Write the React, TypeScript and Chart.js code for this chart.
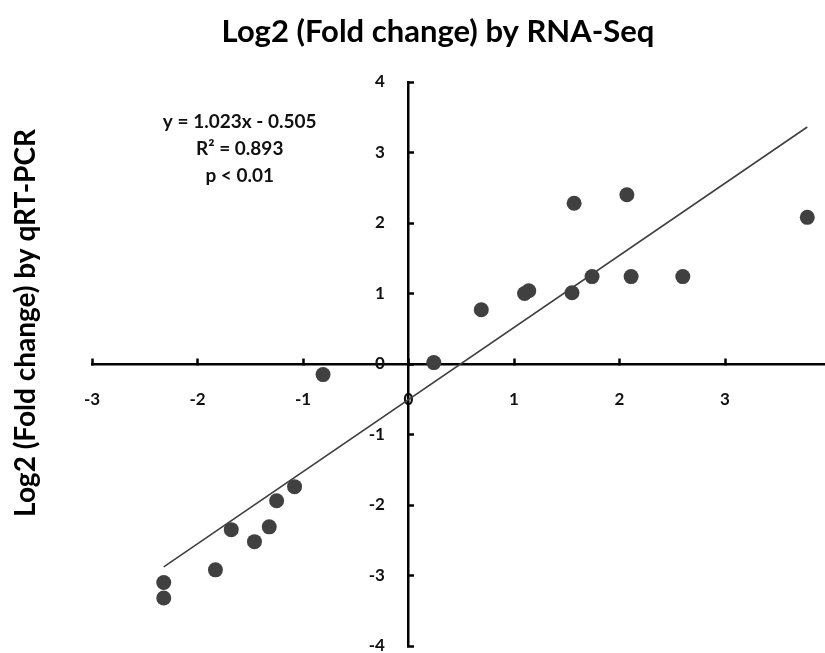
import React, { useEffect, useRef } from 'react';
import { Chart, registerables } from 'chart.js';

Chart.register(...registerables);

// ---- data ----
const rnaSeqLog2 = [0.24, -0.81, 0.69, 1.1, 1.14, 1.55, 1.57, 1.74, 2.07, 2.11, 2.6, 3.78, -2.32, -2.32, -1.83, -1.68, -1.46, -1.32, -1.25, -1.08];
const qpcrLog2 = [0.02, -0.15, 0.77, 1.0, 1.04, 1.01, 2.28, 1.24, 2.4, 1.24, 1.24, 2.08, -3.1, -3.32, -2.92, -2.35, -2.52, -2.31, -1.94, -1.74];
const xTickValues = [-3, -2, -1, 0, 1, 2, 3, 4];
const yTickValues = [-4, -3, -2, -1, 0, 1, 2, 3, 4];
const trendSlope = 1.023;
const trendIntercept = -0.505;
const equationLines = ['y = 1.023x - 0.505', 'R\u00B2 = 0.893', 'p < 0.01'];
const chartTitle = 'Log2 (Fold change) by RNA-Seq';
const yAxisTitle = 'Log2 (Fold change) by qRT-PCR';

const FONT = 'Lato, "Open Sans", sans-serif';
const INK = '#111111';
const MARK = '#404040';

const equationPlugin = {
  id: 'equationText',
  afterDatasetsDraw(chart: any, _args: any, opts: any) {
    const { ctx, scales } = chart;
    const cx = scales.x.getPixelForValue(opts.anchorX);
    const cy = scales.y.getPixelForValue(opts.anchorY);
    ctx.save();
    ctx.font = `bold ${opts.size}px ${FONT}`;
    ctx.fillStyle = INK;
    ctx.textAlign = 'center';
    ctx.textBaseline = 'middle';
    (opts.lines as string[]).forEach((t, i) => ctx.fillText(t, cx, cy + i * opts.lineGap));
    ctx.restore();
  },
};

export default function App() {
  const ref = useRef<HTMLCanvasElement | null>(null);

  useEffect(() => {
    document.body.style.margin = '0';
    const canvas = ref.current;
    if (!canvas) return;

    const points = rnaSeqLog2.map((x, i) => ({ x, y: qpcrLog2[i] }));
    const xMin = Math.min(...rnaSeqLog2);
    const xMax = Math.max(...rnaSeqLog2);
    const trend = [xMin, xMax].map((x) => ({ x, y: trendSlope * x + trendIntercept }));

    const tickFont = { family: FONT, size: 17, weight: 'bold' as const };
    const axisGrid = { display: true, drawOnChartArea: false, drawTicks: true, tickLength: -7, tickWidth: 2.5, tickColor: '#000' };
    const axisBorder = { display: true, color: '#000', width: 2.5 };

    const chart = new Chart(canvas, {
      type: 'scatter',
      data: {
        datasets: [
          {
            type: 'scatter',
            data: points,
            xAxisID: 'x',
            yAxisID: 'y',
            pointRadius: 7.5,
            pointBackgroundColor: MARK,
            pointBorderWidth: 0,
            order: 2,
          } as any,
          {
            type: 'line',
            data: trend,
            xAxisID: 'x',
            yAxisID: 'y',
            borderColor: MARK,
            borderWidth: 1.6,
            pointRadius: 0,
            fill: false,
            order: 1,
          } as any,
        ],
      },
      options: {
        responsive: false,
        animation: false,
        events: [],
        layout: { autoPadding: false, padding: { left: 45.5, right: 14.5, top: 0, bottom: 19 } },
        plugins: {
          legend: { display: false },
          tooltip: { enabled: false },
          title: {
            display: true,
            position: 'left',
            fullSize: true,
            text: yAxisTitle,
            color: '#000',
            font: { family: FONT, size: 28, weight: 'bold' },
            padding: { top: -36.3, bottom: 49.2 },
          },
          subtitle: {
            display: true,
            position: 'top',
            fullSize: true,
            text: chartTitle,
            color: '#000',
            font: { family: FONT, size: 31, weight: 'bold' },
            padding: { top: 13.4, bottom: 31.4 },
          },
          equationText: { anchorX: -1.6, anchorY: 3.43, lineGap: 27, size: 19, lines: equationLines },
        } as any,
        scales: {
          x: {
            type: 'linear',
            axis: 'x',
            position: { y: 0 },
            min: xTickValues[0],
            max: xTickValues[xTickValues.length - 1],
            afterBuildTicks: (s: any) => { s.ticks = xTickValues.map((v) => ({ value: v })); },
            ticks: { display: false },
            grid: axisGrid,
            border: axisBorder,
          },
          xLabels: {
            type: 'linear',
            axis: 'x',
            position: { y: -0.247 },
            min: xTickValues[0],
            max: xTickValues[xTickValues.length - 1],
            afterBuildTicks: (s: any) => { s.ticks = xTickValues.map((v) => ({ value: v })); },
            ticks: { color: INK, font: tickFont, padding: 0 },
            grid: { display: false },
            border: { display: false },
          },
          y: {
            type: 'linear',
            axis: 'y',
            position: { x: 0 },
            min: yTickValues[0],
            max: yTickValues[yTickValues.length - 1],
            afterBuildTicks: (s: any) => { s.ticks = yTickValues.map((v) => ({ value: v })); },
            ticks: { display: false },
            grid: axisGrid,
            border: axisBorder,
          },
          yLabels: {
            type: 'linear',
            axis: 'y',
            position: { x: -0.223 },
            min: yTickValues[0],
            max: yTickValues[yTickValues.length - 1],
            afterBuildTicks: (s: any) => { s.ticks = yTickValues.map((v) => ({ value: v })); },
            ticks: { color: INK, font: tickFont, padding: 0 },
            grid: { display: false },
            border: { display: false },
          },
        } as any,
      },
      plugins: [equationPlugin],
    });

    return () => chart.destroy();
  }, []);

  return (
    <div style={{ position: 'relative', width: 825, height: 653, overflow: 'hidden', background: '#fff' }}>
      <canvas ref={ref} width={845} height={665} style={{ display: 'block', width: 845, height: 665 }} />
    </div>
  );
}
